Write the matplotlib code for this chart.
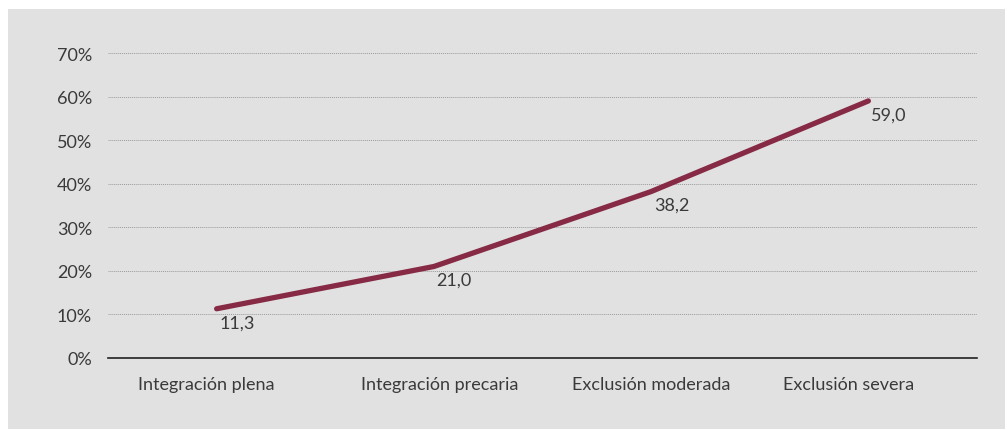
import matplotlib.pyplot as plt
from matplotlib.patches import Rectangle
from matplotlib.transforms import ScaledTranslation

categories = ["Integración plena", "Integración precaria", "Exclusión moderada", "Exclusión severa"]
values = [11.3, 21.0, 38.2, 59.0]
value_labels = ["11,3", "21,0", "38,2", "59,0"]
yticks = [0, 10, 20, 30, 40, 50, 60, 70]

plt.rcParams['font.family'] = ['Lato', 'DejaVu Sans']

fig = plt.figure(figsize=(10.07, 4.31), dpi=100)
fig.patch.set_facecolor('white')
fig.patches.append(Rectangle((8 / 1007, 1 / 431), 997 / 1007, 420 / 431,
                             transform=fig.transFigure, facecolor='#e1e1e1',
                             edgecolor='none', zorder=-1))

ax = fig.add_axes([108 / 1007, 1 - 359 / 431, 869 / 1007, 305 / 431])
ax.set_facecolor('none')

x = list(range(len(categories)))
ax.plot(x, values, color='#862a45', lw=3.8, solid_capstyle='round', zorder=3)

for xi, v, lab in zip(x, values, value_labels):
    ax.annotate(lab, (xi, v), xytext=(2, -4), textcoords='offset points',
                ha='left', va='top', fontsize=13, color='#3a3a3a')

ax.set_xlim(-0.5, 3.5)
ax.set_ylim(0, 70)
ax.set_yticks(yticks)
ax.set_yticklabels([f"{t}%" for t in yticks])
ax.set_xticks(x)
ax.set_xticklabels(categories)

ax.yaxis.grid(True, linestyle=(0, (1, 1)), color='#9a9a9a', lw=0.7)
ax.set_axisbelow(True)
for s in ['top', 'right', 'left']:
    ax.spines[s].set_visible(False)
ax.spines['bottom'].set_color('#222222')
ax.spines['bottom'].set_linewidth(1.2)
ax.spines['bottom'].set_zorder(4)

ax.tick_params(axis='both', length=0, labelsize=13, colors='#3a3a3a')
ax.tick_params(axis='y', pad=11.5)
ax.tick_params(axis='x', pad=13)

# category labels sit a little off the point centres in the original
shifts = [-10, 6, 0, -20]
for t, dx in zip(ax.get_xticklabels(), shifts):
    t.set_transform(t.get_transform() + ScaledTranslation(dx / 100, 0, fig.dpi_scale_trans))

fig.savefig('out.png', dpi=100)
